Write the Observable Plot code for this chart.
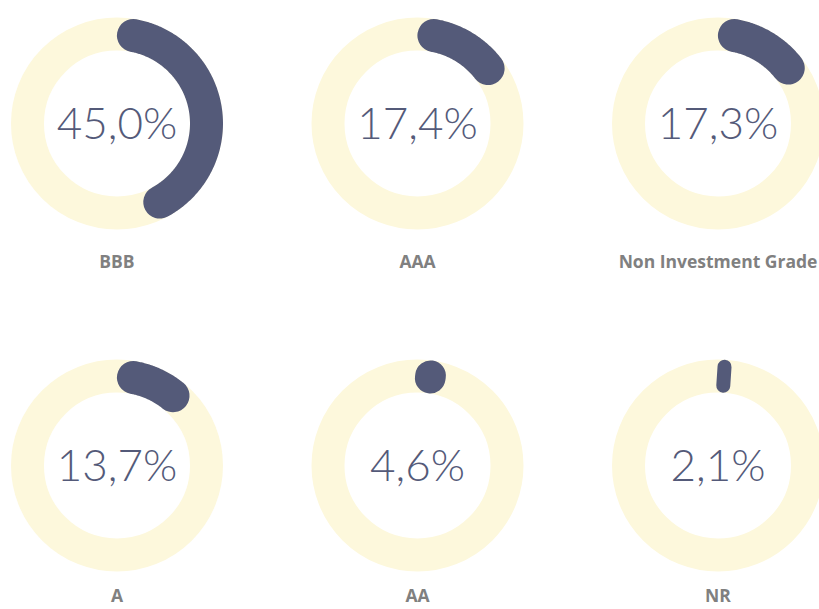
<!DOCTYPE html>
<html><head><meta charset="utf-8">
<script src="https://cdn.jsdelivr.net/npm/d3@7"></script>
<script src="https://cdn.jsdelivr.net/npm/@observablehq/plot@0.6"></script>
<style>html,body{margin:0;padding:0;background:#fff;overflow:hidden}</style>
</head><body><div id="chart"></div>
<script>
// ---- data ----
const categories = ["BBB", "AAA", "Non Investment Grade", "A", "AA", "NR"];
const values = [45.0, 17.4, 17.3, 13.7, 4.6, 2.1];
const columns = [0, 1, 2, 0, 1, 2];
const rows = [0, 0, 0, 1, 1, 1];

// ---- styles ----
const ARC = "#545a79", RING = "#fdf8dc", LABEL = "#808080";
const R_MID = 89.5, THICK = 33, R_OUT = R_MID + THICK / 2;

const table = categories.map((c, i) => ({category: c, value: values[i], col: columns[i], row: rows[i]}));

// arc geometry derived from each value (angle measured clockwise from 12 o'clock)
const capAngle = (THICK / 2) / R_MID;
const arcPts = [];
const smallMarks = [];
for (const d of table) {
  const span = d.value / 100 * 2 * Math.PI;
  if (span * R_MID > THICK) {
    const a0 = capAngle, a1 = span - capAngle;
    const n = Math.max(2, Math.ceil((a1 - a0) / 0.01));
    for (let k = 0; k <= n; k++) {
      const a = a0 + (a1 - a0) * k / n;
      arcPts.push({...d, px: R_MID * Math.sin(a), py: -R_MID * Math.cos(a)});
    }
  } else {
    const w = Math.min(THICK, span * R_OUT);
    const h = (THICK - w) / 2;
    const a = span / 2;
    const pts = [R_MID - h, R_MID + h].map(r => ({...d, px: r * Math.sin(a), py: -r * Math.cos(a)}));
    smallMarks.push(Plot.line(pts, {fx: "col", fy: "row", x: "px", y: "py", stroke: ARC, strokeWidth: w, strokeLinecap: "round"}));
  }
}

const fmt = v => v.toFixed(1).replace(".", ",") + "%";

const plot = Plot.plot({
  width: 819, height: 609,
  marginTop: 0, marginLeft: 15, marginRight: 0, marginBottom: 21,
  style: {background: "#fff", overflow: "visible"},
  fx: {domain: [0, 1, 2], paddingInner: 0.3245, paddingOuter: 0, round: false, axis: null},
  fy: {domain: [0, 1], paddingInner: 0.2807, paddingOuter: 0, round: false, axis: null},
  x: {domain: [-101.5, 101.5], axis: null},
  y: {domain: [123, -123], axis: null},
  marks: [
    Plot.dot(table, {fx: "col", fy: "row", x: d => 0, y: d => 0, r: R_MID, fill: "none", stroke: RING, strokeWidth: THICK}),
    Plot.line(arcPts, {fx: "col", fy: "row", x: "px", y: "py", z: "category", stroke: ARC, strokeWidth: THICK, strokeLinecap: "round", strokeLinejoin: "round"}),
    ...smallMarks,
    Plot.text(table, {fx: "col", fy: "row", x: d => 0, y: d => 1, text: d => fmt(d.value), fill: ARC, fontSize: 44, fontWeight: 300, fontFamily: "Lato, 'Open Sans', sans-serif", lineAnchor: "middle"}),
    Plot.text(table, {fx: "col", fy: "row", x: d => 0, y: d => (d.row === 0 ? 139 : 131), text: "category", fill: LABEL, fontSize: 17.5, fontWeight: "bold", fontFamily: "'Open Sans', sans-serif", lineAnchor: "middle"})
  ]
});
document.getElementById("chart").appendChild(plot);
</script>
</body></html>
